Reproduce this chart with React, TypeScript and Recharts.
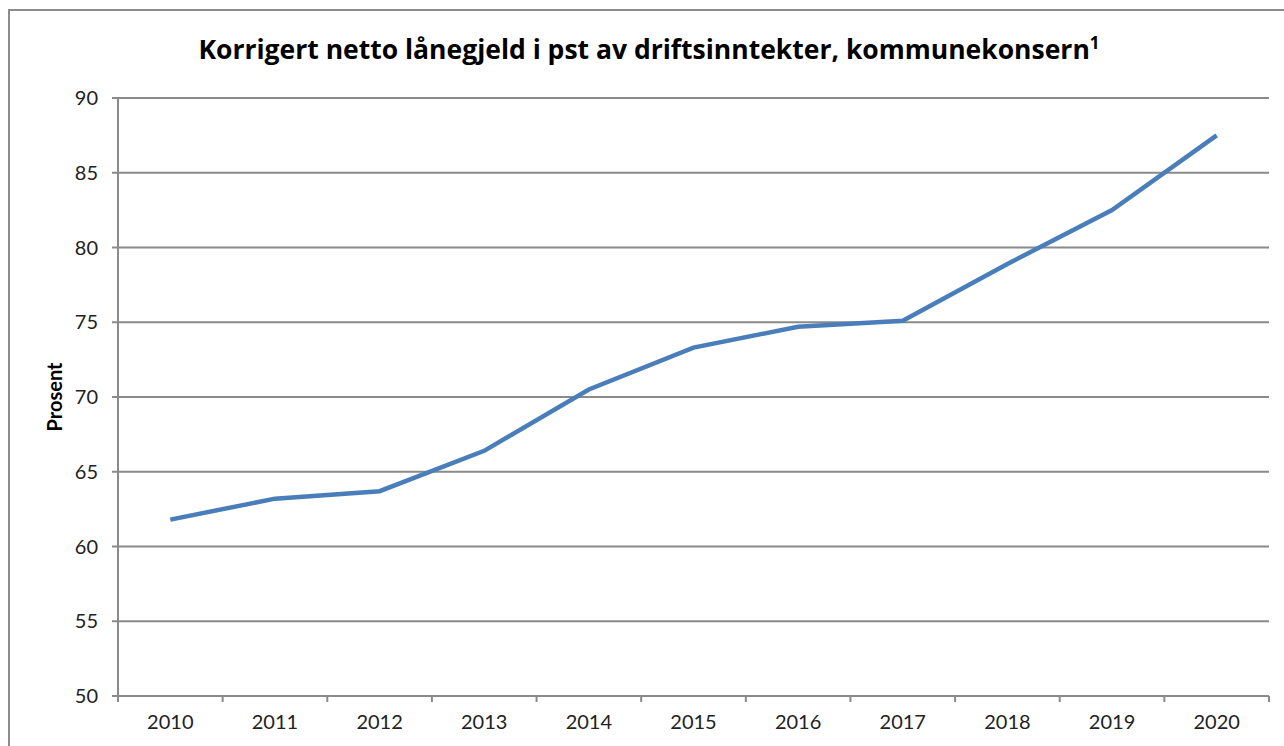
import React from 'react';
import { LineChart, Line, XAxis, YAxis, CartesianGrid } from 'recharts';

const YEARS = ['2010', '2011', '2012', '2013', '2014', '2015', '2016', '2017', '2018', '2019', '2020'];
const GJELD = [61.8, 63.2, 63.7, 66.4, 70.5, 73.3, 74.7, 75.1, 78.9, 82.5, 87.5];
const Y_TICKS = [50, 55, 60, 65, 70, 75, 80, 85, 90];

const data = YEARS.map((year, i) => ({ year, value: GJELD[i] }));

const W = 1284;
const H = 746;
const MARGIN = { top: 98, right: 15, bottom: 0, left: 40 };
const Y_AXIS_W = 78;
const X_AXIS_H = 50;
const PLOT_W = W - MARGIN.left - Y_AXIS_W - MARGIN.right;
const BAND = PLOT_W / YEARS.length;
const FONT = 'Lato, "Open Sans", sans-serif';
const GRID = '#8a8a8a';

// category labels sit between tick marks, like in Excel
function YearTick(props: any) {
  const { x, y, payload } = props;
  const top = y - 8;
  return (
    <g>
      <line x1={x + BAND / 2} x2={x + BAND / 2} y1={top} y2={top + 6} stroke={GRID} strokeWidth={2} />
      {payload.index === 0 && (
        <line x1={x - BAND / 2} x2={x - BAND / 2} y1={top} y2={top + 6} stroke={GRID} strokeWidth={2} />
      )}
      <text x={x} y={y + 25} textAnchor="middle" fontSize={20} fill="#222" fontFamily={FONT}>
        {payload.value}
      </text>
    </g>
  );
}

export default function App() {
  return (
    <div style={{ position: 'fixed', left: 0, top: 0, width: W, height: H, overflow: 'hidden', background: '#fff' }}>
      <div
        style={{
          position: 'absolute', left: 8, top: 9, width: W + 20, height: H + 20,
          border: '2px solid #8c8c8c', boxSizing: 'border-box',
        }}
      />
      <div
        style={{
          position: 'absolute', left: 0, top: 31, width: 1298, textAlign: 'center',
          fontFamily: '"Open Sans", sans-serif', fontWeight: 700, fontSize: 26.5, color: '#000',
          lineHeight: '36px',
        }}
      >
        Korrigert netto lånegjeld i pst av driftsinntekter, kommunekonsern<sup style={{ fontSize: 17, lineHeight: 0 }}>1</sup>
      </div>
      <div style={{ position: 'absolute', left: 0, top: 0 }}>
        <LineChart width={W} height={H} data={data} margin={MARGIN}>
          <CartesianGrid vertical={false} stroke={GRID} strokeWidth={2} />
          <XAxis
            dataKey="year"
            tickLine={false}
            axisLine={{ stroke: GRID, strokeWidth: 2 }}
            tick={<YearTick />}
            interval={0}
            height={X_AXIS_H}
            padding={{ left: BAND / 2, right: BAND / 2 }}
          />
          <YAxis
            domain={[50, 90]}
            ticks={Y_TICKS}
            width={Y_AXIS_W}
            tickSize={6}
            tickMargin={14}
            tickLine={{ stroke: GRID, strokeWidth: 2 }}
            axisLine={{ stroke: GRID, strokeWidth: 2 }}
            tick={{ fontSize: 20, fill: '#222', fontFamily: FONT }}
            label={{
              value: 'Prosent', angle: -90, position: 'insideLeft', offset: 15,
              style: { fontSize: 20, fontWeight: 700, fill: '#000', fontFamily: FONT, textAnchor: 'middle' },
            }}
          />
          <Line
            type="linear"
            dataKey="value"
            stroke="#4A7EBB"
            strokeWidth={4.5}
            dot={false}
            isAnimationActive={false}
          />
        </LineChart>
      </div>
    </div>
  );
}
